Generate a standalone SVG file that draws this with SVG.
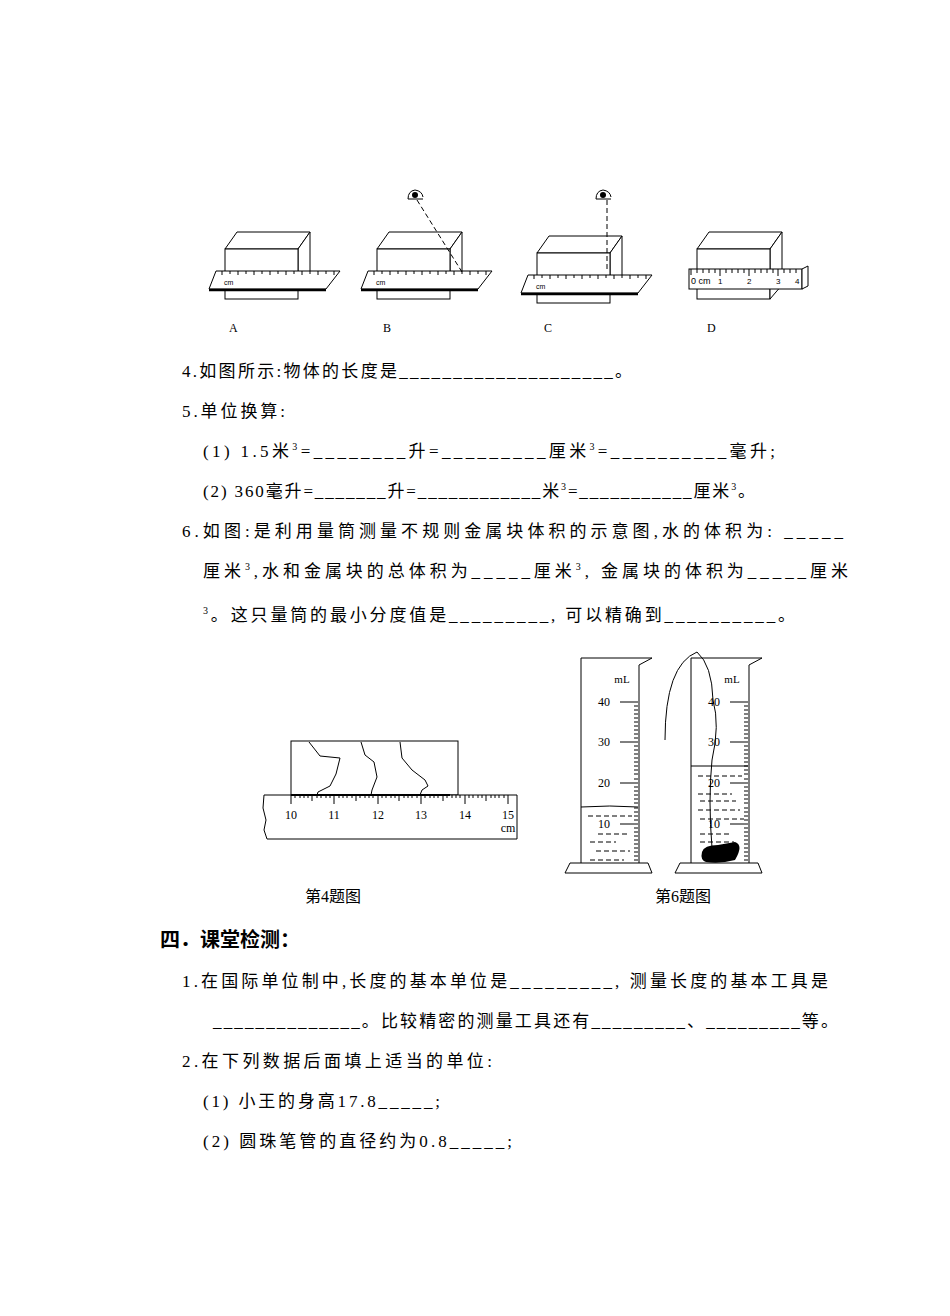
<svg xmlns="http://www.w3.org/2000/svg" width="950" height="1316" viewBox="0 0 950 1316">
<style>
.t{font-family:"Liberation Serif","Noto Sans CJK SC",serif;font-size:17px;fill:#000}
.s{font-family:"Liberation Serif",serif;font-size:12px;fill:#000}
.l{fill:none;stroke:#000;stroke-width:1}
.w{fill:#fff;stroke:#000;stroke-width:1}
.d{fill:none;stroke:#000;stroke-width:1;stroke-dasharray:5,3}
</style>
<defs>
<g id="fig">
<rect class="w" x="225" y="280" width="73" height="19"/>
<polygon class="w" points="225,249 237,232 310,232 298,249"/>
<polygon class="w" points="298,249 310,232 310,280 298,290"/>
<rect class="w" x="225" y="249" width="73" height="25"/>
<polygon class="w" points="216,271 340,271 326,289 209,289"/>
<line x1="209" y1="290" x2="326" y2="290" stroke="#000" stroke-width="2.5"/>
<path class="l" d="M222,271v4M230,271v3M238,271v4M246,271v3M254,271v4M262,271v3M270,271v4M278,271v3M286,271v4M294,271v3M302,271v4M310,271v3M318,271v4M326,271v3M334,271v4"/>
<text x="224" y="285" font-family="Liberation Sans,sans-serif" font-size="7">cm</text>
</g>
<g id="eye">
<path d="M-7,4 Q-7,-4 0,-5 Q7,-4 8,2 M-7,4 H8" class="l" stroke-width="1.5"/>
<circle cx="0" cy="0" r="3"/>
</g>
</defs>
<g id="figA"><use href="#fig"/></g>
<g id="figB"><use href="#fig" x="152"/><use href="#eye" x="415" y="195"/><line class="d" x1="417" y1="200" x2="462" y2="272"/></g>
<g id="figC"><use href="#fig" x="312" y="4"/><use href="#eye" x="603" y="195"/><line class="d" x1="607" y1="200" x2="607" y2="272"/></g>
<g id="figD">
<rect class="w" x="697" y="276" width="73" height="23"/>
<polygon class="w" points="697,249 709,232 782,232 770,249"/>
<polygon class="w" points="770,249 782,232 782,285 770,299"/>
<rect class="w" x="697" y="249" width="73" height="27"/>
<rect class="w" x="689" y="269" width="113" height="20"/>
<polygon class="w" points="802,269 808,266 808,286 802,289"/>
<path class="l" d="M691,269v6M697,269v4M703,269v4M709,269v4M715,269v4M720,269v7M726,269v4M732,269v4M738,269v4M744,269v4M749,269v7M755,269v4M761,269v4M767,269v4M773,269v4M778,269v7M784,269v4M790,269v4M796,269v4"/>
<text x="691" y="284" font-family="Liberation Sans,sans-serif" font-size="9">0 cm</text>
<text x="718" y="284" font-family="Liberation Sans,sans-serif" font-size="8">1</text>
<text x="747" y="284" font-family="Liberation Sans,sans-serif" font-size="8">2</text>
<text x="776" y="284" font-family="Liberation Sans,sans-serif" font-size="8">3</text>
<text x="795" y="284" font-family="Liberation Sans,sans-serif" font-size="8">4</text>
</g>
<g class="s" font-size="14"><text x="229" y="332">A</text><text x="383" y="332">B</text><text x="544" y="332">C</text><text x="707" y="332">D</text></g>
<g class="t" lengthAdjust="spacing">
<text x="182" y="377" textLength="450">4.如图所示:物体的长度是____________________。</text>
<text x="182" y="417" textLength="103">5.单位换算:</text>
<text x="203" y="457" textLength="572">(1) 1.5米<tspan font-size="10" dy="-7">3</tspan><tspan dy="7">=________升=_________厘米</tspan><tspan font-size="10" dy="-7">3</tspan><tspan dy="7">=__________毫升;</tspan></text>
<text x="203" y="497" textLength="552">(2) 360毫升=_______升=____________米<tspan font-size="10" dy="-7">3</tspan><tspan dy="7">=___________厘米</tspan><tspan font-size="10" dy="-7">3</tspan><tspan dy="7">。</tspan></text>
<text x="182" y="537" textLength="661">6.如图:是利用量筒测量不规则金属块体积的示意图,水的体积为: _____</text>
<text x="203" y="577" textLength="645">厘米<tspan font-size="10" dy="-7">3</tspan><tspan dy="7">,水和金属块的总体积为_____厘米</tspan><tspan font-size="10" dy="-7">3</tspan><tspan dy="7">, 金属块的体积为_____厘米</tspan></text>
<text x="203" y="621" textLength="592"><tspan font-size="10" dy="-7">3</tspan><tspan dy="7">。这只量筒的最小分度值是_________, 可以精确到__________。</tspan></text>
<text x="305" y="902" font-size="16">第4题图</text>
<text x="655" y="902" font-size="16">第6题图</text>
<text x="160" y="947" font-family="Liberation Sans,Noto Sans CJK SC,sans-serif" font-size="20" font-weight="bold">四．课堂检测：</text>
<text x="182" y="987" textLength="646">1.在国际单位制中,长度的基本单位是_________, 测量长度的基本工具是</text>
<text x="213" y="1027" textLength="625">______________。比较精密的测量工具还有_________、_________等。</text>
<text x="182" y="1067" textLength="310">2.在下列数据后面填上适当的单位:</text>
<text x="203" y="1107" textLength="237">(1) 小王的身高17.8_____;</text>
<text x="203" y="1147" textLength="309">(2) 圆珠笔管的直径约为0.8_____;</text>
</g>
<g id="fig4">
<rect class="w" x="291" y="741" width="167" height="54"/>
<path class="l" d="M309,742 L320,756 L340,758 L336,774 L330,786 L318,792 L317,795 M361,742 L365,755 L374,762 L377,777 L372,790 L371,795 M400,742 L402,758 L412,770 L425,780 L428,786 L422,790 L420,795"/>
<path class="w" d="M264,795 H517 V839 H267 L264,830 L266,820 L263,808 Z"/>
<line x1="291" y1="795" x2="450" y2="795" stroke="#000" stroke-width="2"/>
<g class="l">
<path d="M291,795v9M334,795v9M378,795v9M421,795v9M465,795v9M508,795v9"/>
<path d="M312,795v6M356,795v6M399,795v6M443,795v6M486,795v6"/>
<path d="M295,795v3M300,795v3M304,795v3M308,795v3M317,795v3M321,795v3M326,795v3M330,795v3M339,795v3M343,795v3M347,795v3M352,795v3M360,795v3M365,795v3M369,795v3M373,795v3M382,795v3M386,795v3M391,795v3M395,795v3M404,795v3M408,795v3M412,795v3M417,795v3M425,795v3M430,795v3M434,795v3M438,795v3M447,795v3M452,795v3M456,795v3M460,795v3M469,795v3M473,795v3M478,795v3M482,795v3M491,795v3M495,795v3M499,795v3M504,795v3"/>
</g>
<g class="s" text-anchor="middle"><text x="291" y="819">10</text><text x="334" y="819">11</text><text x="378" y="819">12</text><text x="421" y="819">13</text><text x="465" y="819">14</text><text x="508" y="819">15</text><text x="508" y="832">cm</text></g>
</g>
<g id="fig6">
<g id="cyl1">
<path class="l" d="M581,863 V658 H652 L639,665 V863"/>
<path class="w" d="M565,873 L570,863 H648 L652,873 Z"/>
<path class="l" d="M581,807 Q610,805 638,807"/>
<path class="l" d="M632,702h6M632,742h6M632,783h6M632,824h6M620,702h12M620,742h12M620,783h12M620,824h12"/>
<path class="l" d="M634,706h4M634,710h4M634,714h4M634,718h4M634,722h4M634,726h4M634,730h4M634,734h4M634,738h4M634,746h4M634,750h4M634,754h4M634,758h4M634,762h4M634,766h4M634,770h4M634,774h4M634,779h4M634,787h4M634,791h4M634,795h4M634,799h4M634,803h4M634,808h4M634,812h4M634,816h4M634,820h4M634,828h4M634,832h4M634,836h4M634,840h4M634,844h4M634,848h4M634,852h4M634,856h4M634,860h4"/>
<path class="d" d="M588,816h44M598,834h30M590,842h26M596,851h34M590,860h34"/>
<g class="s" text-anchor="middle"><text x="604" y="706">40</text><text x="604" y="746">30</text><text x="604" y="787">20</text><text x="604" y="828">10</text><text x="622" y="683" font-size="11">mL</text></g>
</g>
<g id="cyl2">
<path class="l" d="M691,863 V658 H762 L749,665 V863"/>
<path class="w" d="M675,873 L680,863 H758 L762,873 Z"/>
<path class="l" d="M691,766 H748"/>
<path class="l" d="M742,702h6M742,742h6M742,783h6M742,824h6M730,702h12M730,742h12M730,783h12M730,824h12"/>
<path class="l" d="M744,706h4M744,710h4M744,714h4M744,718h4M744,722h4M744,726h4M744,730h4M744,734h4M744,738h4M744,746h4M744,750h4M744,754h4M744,758h4M744,762h4M744,766h4M744,770h4M744,774h4M744,779h4M744,787h4M744,791h4M744,795h4M744,799h4M744,803h4M744,808h4M744,812h4M744,816h4M744,820h4M744,828h4M744,832h4M744,836h4M744,840h4M744,844h4M744,848h4M744,852h4M744,856h4M744,860h4"/>
<path class="d" d="M698,776h44M698,794h34M700,801h36M698,810h42M700,819h44M700,834h30M700,842h34"/>
<g class="s" text-anchor="middle"><text x="714" y="706">40</text><text x="714" y="746">30</text><text x="714" y="787">20</text><text x="714" y="828">10</text><text x="732" y="683" font-size="11">mL</text></g>
<path class="l" d="M665,740 Q665,665 697,652 Q712,665 713,700 Q720,725 712,760 Q708,800 712,848"/>
<path d="M702,852 Q704,845 718,845 L735,842 Q744,845 735,860 Q720,864 706,862 Q700,860 702,852Z" fill="#000"/>
</g>
</g>
</svg>
